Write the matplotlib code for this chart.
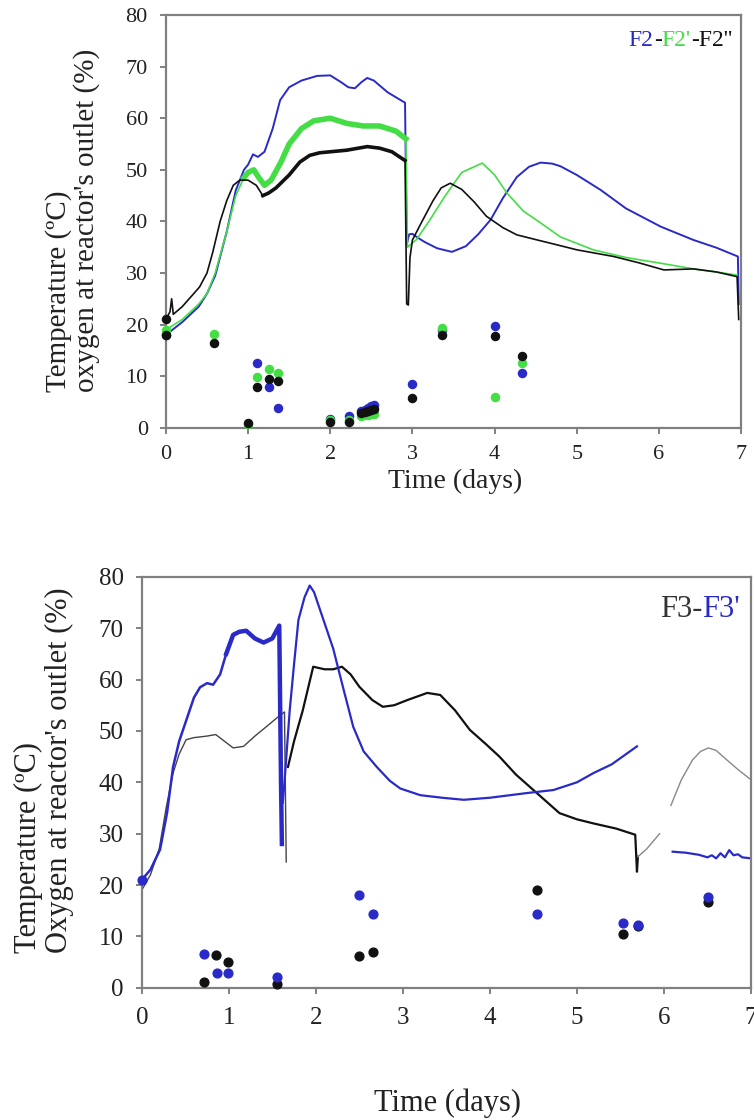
import matplotlib
matplotlib.use("Agg")
import matplotlib.pyplot as plt
from matplotlib.offsetbox import TextArea, HPacker, AnchoredOffsetbox

plt.rcParams['font.family'] = ['Liberation Serif', 'DejaVu Serif']

BLUE = "#2a2ac8"
GREEN = "#45dd45"
BLACK = "#111111"
GREY = "#808080"

# ---- top panel: F2 (blue), F2' (green), F2'' (black) temperatures ----
f2_day = [0, 0.2, 0.4, 0.5, 0.6, 0.74, 0.85, 0.95, 1.0, 1.06, 1.12, 1.2, 1.3, 1.39,
          1.5, 1.65, 1.84, 2.0, 2.13, 2.22, 2.3, 2.38, 2.45, 2.53, 2.7, 2.91, 2.93,
          2.96, 3.0, 3.05, 3.15, 3.3, 3.48, 3.65, 3.8, 3.95, 4.1, 4.27, 4.42, 4.56,
          4.7, 4.8, 5.0, 5.29, 5.6, 6.02, 6.42, 6.7, 6.96, 6.97]
f2_temp = [18, 20.5, 23.5, 26, 29.5, 38, 46, 50, 51, 53, 52.5, 53.5, 58, 63.5,
           66, 67.3, 68.2, 68.3, 67, 66, 65.8, 67, 67.8, 67.3, 65, 63, 35.5,
           37.5, 37.6, 37, 36, 34.8, 34.1, 35.2, 37.5, 40.3, 44.5, 48.6, 50.6, 51.4,
           51.2, 50.7, 49, 46.1, 42.5, 39, 36.4, 34.9, 33.2, 24]

f2p_day_a = [0, 0.2, 0.4, 0.5, 0.6, 0.74, 0.85, 0.95]
f2p_temp_a = [19, 21, 24, 26, 30, 38, 45, 48.5]
f2p_day_b = [0.95, 1.0, 1.07, 1.13, 1.2, 1.28, 1.4, 1.5, 1.65, 1.8, 2.0, 2.2, 2.4,
             2.6, 2.8, 2.92]
f2p_temp_b = [48.5, 49.5, 50, 48.5, 47, 48, 51.5, 55, 58, 59.5, 60, 59, 58.5,
              58.5, 57.5, 56]
f2p_day_c = [2.92, 2.94, 3.05, 3.2, 3.4, 3.6, 3.85, 4.0, 4.15, 4.35, 4.56, 4.8,
             5.2, 5.6, 6.02, 6.42, 6.7, 6.95]
f2p_temp_c = [56, 35, 36.5, 40, 45, 49.5, 51.3, 49, 45.5, 42, 39.7, 37,
              34.5, 33, 31.9, 30.8, 30.2, 29.6]

f2pp_day_a = [0, 0.05, 0.07, 0.09, 0.2, 0.41, 0.5, 0.57, 0.66, 0.74, 0.82, 0.9,
              1.0, 1.1, 1.18]
f2pp_temp_a = [21, 22.5, 25, 22, 23.5, 27.3, 30, 34, 40, 44, 47, 48,
               48, 47, 45]
f2pp_day_b = [1.18, 1.25, 1.34, 1.5, 1.63, 1.75, 1.87, 2.0, 2.2, 2.45, 2.6, 2.75,
              2.91]
f2pp_temp_b = [45, 45.5, 46.5, 49, 51.5, 52.8, 53.3, 53.5, 53.8, 54.5, 54.2, 53.5,
               51.8]
f2pp_day_c = [2.91, 2.93, 2.95, 2.97, 3.0, 3.1, 3.25, 3.35, 3.46, 3.6, 3.75, 3.9,
              4.1, 4.27, 4.52, 4.75, 5.0, 5.45, 5.75, 6.06, 6.42, 6.7, 6.95, 6.97]
f2pp_temp_c = [51.8, 24, 23.8, 33, 36.4, 39.5, 44, 46.5, 47.4, 46.2, 43.8, 41,
               38.8, 37.4, 36.4, 35.5, 34.5, 33.2, 32, 30.6, 30.8, 30.2, 29.3, 21]

# oxygen points, top panel
o2_f2_day = [0, 1.11, 1.26, 1.36, 2.0, 2.23, 2.38, 2.42, 2.46, 2.5, 2.53, 2.99,
             3.36, 4.0, 4.33]
o2_f2 = [18, 12.6, 8, 3.8, 1.8, 2.2, 3.2, 3.5, 3.9, 4.2, 4.4, 8.5,
         19, 19.8, 10.6]
o2_f2p_day = [0, 0.58, 1.0, 1.11, 1.26, 1.36, 2.0, 2.23, 2.38, 2.42, 2.46, 2.5,
              2.53, 3.36, 4.0, 4.33]
o2_f2p = [19, 18.2, 0.8, 9.9, 11.4, 10.7, 1.5, 1.5, 2.2, 2.4, 2.5, 2.6,
          2.7, 19.3, 5.9, 12.6]
o2_f2pp_day = [0, 0, 0.58, 1.0, 1.11, 1.26, 1.36, 2.0, 2.23, 2.38, 2.42, 2.46,
               2.5, 2.53, 2.99, 3.36, 4.0, 4.33]
o2_f2pp = [21, 18, 16.4, 0.9, 8.0, 9.4, 9.1, 1.1, 1.1, 2.8, 3.0, 3.2,
           3.4, 3.6, 5.8, 18, 17.8, 14]

# ---- bottom panel: F3 (black), F3' (blue) ----
f3p_day_a = [0, 0.1, 0.21, 0.29, 0.36, 0.43, 0.51, 0.6, 0.67, 0.75, 0.82, 0.9,
             0.97]
f3p_temp_a = [21, 23, 26.9, 34, 43, 48, 52, 56.5, 58.5, 59.3, 59, 61,
              65]
f3p_day_b = [0.97, 1.05, 1.12, 1.2, 1.3, 1.4, 1.5, 1.58, 1.6, 1.61]
f3p_temp_b = [65, 68.7, 69.3, 69.5, 68, 67.2, 68, 70.5, 40, 28]
f3p_day_c = [1.62, 1.64, 1.7, 1.75, 1.8, 1.87, 1.93, 1.98, 2.1, 2.2, 2.32, 2.43,
             2.55, 2.7, 2.85, 2.97, 3.2, 3.45, 3.7, 4.0, 4.42, 4.73, 5.0, 5.19,
             5.4, 5.69]
f3p_temp_c = [36, 40, 54, 63, 71.6, 76, 78.3, 77, 71, 66, 58, 50.8,
              46, 43, 40.3, 38.8, 37.5, 37, 36.6, 37, 37.9, 38.5, 40, 41.8,
              43.5, 47]
f3p_day_d = [6.1, 6.25, 6.4, 6.5, 6.55, 6.6, 6.65, 6.7, 6.75, 6.8, 6.85, 6.9, 7.0]
f3p_temp_d = [26.5, 26.3, 25.9, 25.4, 25.8, 25.2, 26.2, 25.4, 26.8, 25.8, 26, 25.4, 25.2]

f3_day_a = [0, 0.1, 0.2, 0.28, 0.36, 0.43, 0.51, 0.6, 0.75, 0.85, 0.95, 1.05,
            1.17, 1.3, 1.43, 1.55, 1.64, 1.66]
f3_temp_a = [19, 22, 27, 35, 41.8, 45.5, 48.3, 48.7, 49, 49.3, 48, 46.7,
             47, 49, 50.8, 52.5, 53.7, 24.5]
f3_day_b = [1.68, 1.75, 1.85, 1.97, 2.1, 2.2, 2.3, 2.4, 2.5, 2.65, 2.77, 2.9,
            3.05, 3.28, 3.43, 3.6, 3.77, 3.95, 4.11, 4.3, 4.54, 4.8, 5.0, 5.19,
            5.45, 5.67, 5.69, 5.7]
f3_temp_b = [43, 48, 54, 62.5, 62, 62, 62.5, 61, 58.6, 56, 54.7, 55,
             56, 57.4, 57, 54, 50.2, 47.5, 45, 41.5, 37.9, 34, 32.8, 32,
             31, 29.8, 22.6, 25.5]
f3_day_c = [5.7, 5.8, 5.95]
f3_temp_c = [25.5, 27, 30]
f3_day_d = [6.08, 6.2, 6.33, 6.42, 6.51, 6.6, 6.72, 6.85, 7.0]
f3_temp_d = [35.5, 40.5, 44.4, 46, 46.7, 46.2, 44.4, 42.5, 40.5]

o2_f3_day = [0.72, 0.85, 0.99, 1.55, 2.5, 2.66, 4.54, 5.53, 5.7, 6.51]
o2_f3 = [1.2, 6.4, 5.1, 0.8, 6.2, 7.0, 19.1, 10.5, 12, 16.7]
o2_f3p_day = [0, 0.72, 0.86, 0.99, 1.55, 2.5, 2.66, 4.54, 5.53, 5.7, 6.51]
o2_f3p = [21, 6.6, 2.9, 2.9, 2.2, 18.1, 14.4, 14.4, 12.6, 12.3, 17.7]

xticks = [0, 1, 2, 3, 4, 5, 6, 7]
yticks = [0, 10, 20, 30, 40, 50, 60, 70, 80]

fig = plt.figure(figsize=(7.54, 11.2), dpi=100)
ax1 = fig.add_axes([0.220, 0.618, 0.763, 0.3686])
ax2 = fig.add_axes([0.188, 0.118, 0.808, 0.367])


def style(ax, tick_size, xpad):
    ax.set_xlim(0, 7)
    ax.set_ylim(0, 80)
    ax.set_xticks(xticks)
    ax.set_yticks(yticks)
    for s in ax.spines.values():
        s.set_color(GREY)
        s.set_linewidth(1.6)
    ax.tick_params(direction="out", length=4, width=1.4, color=GREY,
                   labelsize=tick_size, labelcolor="#222222")
    ax.tick_params(axis="x", pad=xpad)
    ax.tick_params(axis="y", pad=9)


def legend(ax, parts, size, x, y):
    areas = [TextArea(t, textprops=dict(color=c, fontsize=size)) for t, c in parts]
    box = HPacker(children=areas, align="baseline", pad=0, sep=0)
    anch = AnchoredOffsetbox(loc="center right", child=box, frameon=False, pad=0,
                             borderpad=0, bbox_to_anchor=(x, y),
                             bbox_transform=ax.transAxes)
    ax.add_artist(anch)


# top panel
style(ax1, 16, 8)
ax1.plot(f2_day, f2_temp, color=BLUE, lw=1.4)
ax1.plot(f2p_day_a, f2p_temp_a, color=GREEN, lw=1.2)
ax1.plot(f2p_day_b, f2p_temp_b, color=GREEN, lw=4)
ax1.plot(f2p_day_c, f2p_temp_c, color=GREEN, lw=1.2)
ax1.plot(f2pp_day_a, f2pp_temp_a, color=BLACK, lw=1.2)
ax1.plot(f2pp_day_b, f2pp_temp_b, color=BLACK, lw=2.6)
ax1.plot(f2pp_day_c, f2pp_temp_c, color=BLACK, lw=1.2)
ax1.scatter(o2_f2_day, o2_f2, s=34, color=BLUE, zorder=3, clip_on=False)
ax1.scatter(o2_f2p_day, o2_f2p, s=34, color=GREEN, zorder=3, clip_on=False)
ax1.scatter(o2_f2pp_day, o2_f2pp, s=34, color=BLACK, zorder=3, clip_on=False)
legend(ax1, [("F2", BLUE), ("-", BLACK), ("F2'", GREEN), ("-F2''", BLACK)],
       17, 0.984, 0.939)

# bottom panel
style(ax2, 18, 10)
ax2.plot(f3_day_a, f3_temp_a, color="#444444", lw=1.0)
ax2.plot(f3_day_b, f3_temp_b, color=BLACK, lw=1.6)
ax2.plot(f3_day_c, f3_temp_c, color="#888888", lw=1.0)
ax2.plot(f3_day_d, f3_temp_d, color="#888888", lw=1.0)
ax2.plot(f3p_day_a, f3p_temp_a, color=BLUE, lw=1.8)
ax2.plot(f3p_day_b, f3p_temp_b, color=BLUE, lw=3.2)
ax2.plot(f3p_day_c, f3p_temp_c, color=BLUE, lw=1.6)
ax2.plot(f3p_day_d, f3p_temp_d, color=BLUE, lw=1.6)
ax2.scatter(o2_f3_day, o2_f3, s=40, color=BLACK, zorder=3, clip_on=False)
ax2.scatter(o2_f3p_day, o2_f3p, s=40, color=BLUE, zorder=3, clip_on=False)
legend(ax2, [("F3-", "#333333"), ("F3'", BLUE)], 22, 0.982, 0.92)

# axis labels
fig.text(73 / 754, 1 - 220 / 1120, "Temperature (ºC)\noxygen at reactor's outlet (%)",
         rotation=90, ha="center", va="center", multialignment="left",
         fontsize=21, linespacing=1.05, color="#222222")
fig.text(455 / 754, 1 - 481 / 1120, "Time (days)", ha="center", va="center",
         fontsize=20, color="#222222")
fig.text(44 / 754, 1 - 770 / 1120, "Temperature (ºC)\nOxygen at reactor's outlet (%)",
         rotation=90, ha="center", va="center", multialignment="left",
         fontsize=22, linespacing=1.05, color="#222222")
fig.text(448 / 754, 1 - 1103 / 1120, "Time (days)", ha="center", va="center",
         fontsize=22, color="#222222")

fig.savefig("out.png", dpi=100)
